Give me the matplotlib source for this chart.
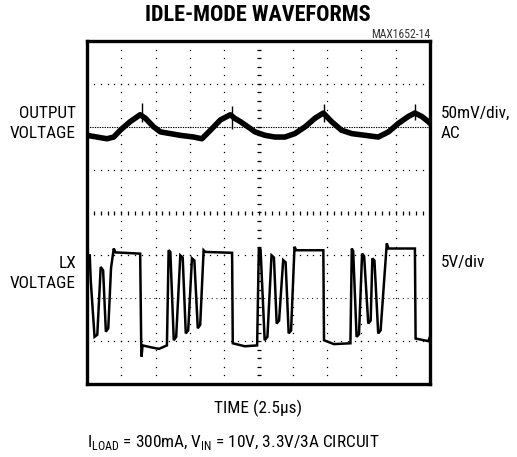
import matplotlib
matplotlib.use("Agg")
import matplotlib.pyplot as plt
from matplotlib import font_manager
import numpy as np

# graticule: 10 x 8 divisions, values in divisions
out_x = [0.00, 0.29, 0.58, 0.78, 0.97, 1.26, 1.55, 1.70, 1.94, 2.14, 2.43, 2.72, 3.11, 3.35,
         3.60, 3.89, 4.18, 4.30, 4.47, 4.76, 4.90, 5.19, 5.48, 5.77, 6.06, 6.36, 6.65, 6.89,
         7.13, 7.42, 7.72, 8.11, 8.49, 8.79, 9.08, 9.37, 9.56, 9.76, 9.95, 10.0]
out_y = [1.80, 1.76, 1.72, 1.76, 1.92, 2.12, 2.28, 2.20, 2.00, 1.88, 1.84, 1.80, 1.76, 1.72,
         1.92, 2.16, 2.28, 2.20, 2.12, 1.96, 1.88, 1.80, 1.76, 1.76, 1.84, 2.00, 2.20, 2.32,
         2.12, 1.92, 1.84, 1.80, 1.76, 1.88, 2.08, 2.24, 2.32, 2.24, 2.12, 2.08]

spike_x = [1.60, 4.23, 6.91, 9.56]
spike_top = [2.56, 2.48, 2.52, 2.52]
spike_bot = [2.10, 1.95, 2.10, 2.15]

lx_x = [0.00, 0.02, 0.08, 0.11, 0.22, 0.30, 0.40, 0.47, 0.55, 0.62, 0.70, 0.78, 0.83,
        1.55, 1.58, 1.59, 1.62, 1.90, 2.10, 2.33,
        2.38, 2.43, 2.53, 2.60, 2.72, 2.79, 2.88, 2.95, 3.06, 3.13, 3.23, 3.30, 3.40, 3.45,
        4.23, 4.25, 4.60, 4.96,
        5.01, 5.06, 5.18, 5.26, 5.38, 5.45, 5.53, 5.60, 5.72, 5.79, 5.88, 5.95, 6.05, 6.10,
        6.89, 6.91, 7.20, 7.68,
        7.72, 7.76, 7.86, 7.93, 8.02, 8.08, 8.20, 8.27, 8.32, 8.38, 8.49, 8.56, 8.74, 8.79,
        9.56, 9.58, 9.95, 10.0]
lx_y = [-2.00, -1.00, -1.00, -1.60, -2.90, -2.85, -1.27, -1.35, -2.78, -2.70, -1.30, -0.84, -0.93,
        -0.96, -3.05, -3.36, -3.10, -3.15, -3.18, -3.10,
        -0.88, -0.92, -2.98, -2.90, -1.00, -1.05, -2.82, -2.75, -1.07, -1.12, -2.70, -2.62, -0.88, -0.92,
        -0.94, -3.05, -3.12, -3.10,
        -0.82, -0.86, -2.98, -2.90, -1.00, -1.05, -2.59, -2.52, -1.11, -1.16, -2.82, -2.75, -0.80, -0.88,
        -0.88, -2.98, -3.07, -3.05,
        -0.84, -0.90, -2.90, -2.84, -0.96, -1.02, -2.59, -2.52, -1.07, -1.12, -2.82, -2.75, -0.72, -0.84,
        -0.84, -2.94, -3.00, -2.90]

title = "IDLE-MODE WAVEFORMS"

available = {f.name for f in font_manager.fontManager.ttflist}
narrow = [n for n in ["Liberation Sans Narrow", "Arial Narrow", "Roboto Condensed",
                      "Barlow Semi Condensed", "Barlow Condensed"] if n in available][:1] + ["DejaVu Sans"]

fig = plt.figure(figsize=(5.17, 4.57), dpi=100)
fig.patch.set_facecolor("white")
ax = fig.add_axes([87 / 517, 1 - 384 / 457, 343 / 517, 343 / 457])
ax.set_xlim(0, 10)
ax.set_ylim(-4, 4)
ax.set_xticks([])
ax.set_yticks([])
for s in ax.spines.values():
    s.set_linewidth(2.4)

# dotted graticule
gy = np.arange(-4, 4.01, 0.2)
gx = np.arange(0, 10.01, 0.2)
for c in [1, 2, 3, 4, 6, 7, 8, 9]:
    ax.plot(np.full_like(gy, c), gy, ls="none", marker="s", ms=0.9, color="black", mew=0)
for r in [-3, -1, 1, 3]:
    ax.plot(gx, np.full_like(gx, r), ls="none", marker="s", ms=0.9, color="black", mew=0)
ax.plot([0, 10], [2, 2], ls=(0, (1.2, 1.0)), lw=0.8, color="black")
ax.plot([0, 10], [-2, -2], ls=(0, (0.8, 3.5)), lw=0.8, color="black")
# centre axes with tick marks
ax.plot(gx, np.zeros_like(gx), ls="none", marker="|", ms=3.5, mew=0.9, color="black")
ax.plot(np.full_like(gy, 5), gy, ls="none", marker="_", ms=3.5, mew=0.9, color="black")

ax.plot(out_x, out_y, color="black", lw=4.0, solid_joinstyle="round")
ax.vlines(spike_x, spike_bot, spike_top, color="black", lw=1.0)
ax.plot(lx_x, lx_y, color="black", lw=1.8, solid_joinstyle="miter")

fs = 12.4
fig.text(258 / 517, 1 - 15 / 457, title, ha="center", va="center",
         fontsize=16, fontweight="bold", family=narrow)
fig.text(430 / 517, 1 - 35 / 457, "MAX1652-14", ha="right", va="center",
         fontsize=8.4, color="#333333", family=narrow)

fig.text(76 / 517, 1 - 113 / 457, "OUTPUT", ha="right", va="center", fontsize=fs, family=narrow)
fig.text(76 / 517, 1 - 133 / 457, "VOLTAGE", ha="right", va="center", fontsize=fs, family=narrow)
fig.text(441 / 517, 1 - 113 / 457, "50mV/div,", ha="left", va="center", fontsize=fs, family=narrow)
fig.text(441 / 517, 1 - 133 / 457, "AC", ha="left", va="center", fontsize=fs, family=narrow)
fig.text(76 / 517, 1 - 263 / 457, "LX", ha="right", va="center", fontsize=fs, family=narrow)
fig.text(76 / 517, 1 - 284 / 457, "VOLTAGE", ha="right", va="center", fontsize=fs, family=narrow)
fig.text(441 / 517, 1 - 263 / 457, "5V/div", ha="left", va="center", fontsize=fs, family=narrow)

fig.text(258 / 517, 1 - 408 / 457, "TIME (2.5\u00b5s)", ha="center", va="center",
         fontsize=fs, family=narrow)
fig.text(87 / 517, 1 - 443 / 457,
         r"I$_{\mathregular{LOAD}}$ = 300mA, V$_{\mathregular{IN}}$ = 10V, 3.3V/3A CIRCUIT",
         ha="left", va="center", fontsize=fs, family=narrow)

fig.savefig("out.png", dpi=100, facecolor="white")
